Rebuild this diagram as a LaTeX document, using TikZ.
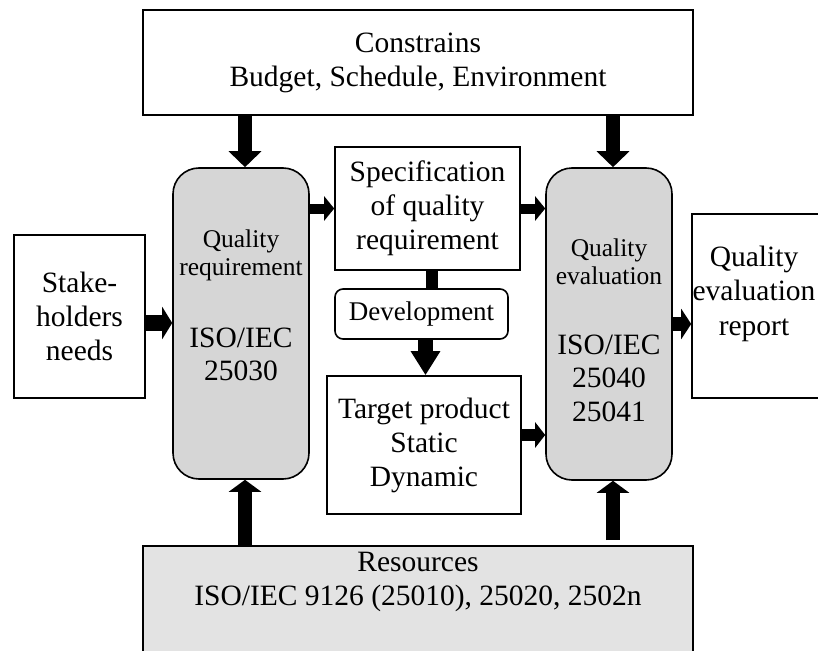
\documentclass[tikz,border=0pt]{standalone}
\usepackage{fontspec}
\setmainfont{Liberation Serif}
\usetikzlibrary{arrows.meta, positioning}

\tikzset{
  plain/.style={draw, line width=1.6pt, inner sep=0pt, align=center,
    font=\fontsize{29.5pt}{34pt}\selectfont},
  rbox/.style={plain, rounded corners=26pt, fill=gray!32},
  txt/.style={inner sep=0pt, align=center, font=\fontsize{29.5pt}{33.5pt}\selectfont},
  smalltxt/.style={txt, font=\fontsize{25.5pt}{28pt}\selectfont},
  bigarrow/.style={line width=14pt, -{Triangle[width=32pt,length=16pt]}},
  sidearrow/.style={line width=10pt, -{Triangle[width=24pt,length=10pt]}},
}

\begin{document}
\begin{tikzpicture}[x=1pt,y=-1pt]
\useasboundingbox (0,0) rectangle (818,650);
% boxes
\node[plain, minimum width=550pt, minimum height=105pt] (constr) at (418,62.5)
  {Constrains\\Budget, Schedule, Environment};
\node[plain, minimum width=131pt, minimum height=163pt] (stake) at (79.5,316.5)
  {Stake-\\holders\\needs};
\node[rbox, minimum width=136pt, minimum height=311pt] (qreq) at (241,323.5) {};
\node[smalltxt] (qreqname) at (241,255) {Quality\\requirement};
\node[txt] (qreqstd) at (241,354.5) {ISO/IEC\\25030};
\node[plain, minimum width=185pt, minimum height=123pt] (spec) at (427.5,208.5)
  {Specification\\of quality\\requirement};
\node[plain, rounded corners=8pt, minimum width=173pt, minimum height=50pt,
  font=\fontsize{27pt}{32pt}\selectfont] (dev) at (421.5,314) {Development};
\node[plain, minimum width=194pt, minimum height=138pt] (target) at (424,445)
  {Target product\\Static\\Dynamic};
\node[rbox, minimum width=126pt, minimum height=312pt] (qeval) at (609,324) {};
\node[smalltxt] (qevalname) at (609,262) {Quality\\evaluation};
\node[txt] (qevalstd) at (609,378) {ISO/IEC\\25040\\25041};
\node[plain, minimum width=130pt, minimum height=184pt] (report) at (757,306) {};
\node[txt, font=\fontsize{29.5pt}{34.5pt}\selectfont] (reporttxt) at (754,293.5)
  {Quality\\evaluation\\report};
\node[plain, fill=gray!22, minimum width=550pt, minimum height=125pt, anchor=north]
  (res) at (418,545) {};
\node[txt] (restxt) at (418,582) {Resources\\ISO/IEC 9126 (25010), 25020, 2502n};
% arrows
\draw[bigarrow] ([xshift=4pt]constr.south -| qreq.north) -- ([xshift=4pt]qreq.north);
\draw[bigarrow] ([xshift=4pt]constr.south -| qeval.north) -- ([xshift=4pt]qeval.north);
\draw[bigarrow, -{Triangle[width=32pt,length=12pt]}] ([xshift=4pt]res.north -| qreq.south) -- ([xshift=4pt]qreq.south);
\draw[bigarrow, -{Triangle[width=32pt,length=12pt]}] ([xshift=4pt,yshift=5pt]res.north -| qeval.south) -- ([xshift=4pt]qeval.south);
\draw[sidearrow, line width=16pt, -{Triangle[width=32pt,length=10pt]}] ([yshift=-6.5pt]stake.east) -- ([yshift=-6.5pt]stake.east -| qreq.west);
\draw[sidearrow] (qreq.east |- spec.west) -- (spec.west);
\draw[sidearrow] (spec.east) -- (spec.east -| qeval.west);
\draw[line width=12pt] ([xshift=4pt]spec.south) -- ([xshift=4pt]spec.south |- dev.north);
\draw[line width=15pt, -{Triangle[width=28pt,length=24pt]}] ([xshift=4pt]dev.south) -- ([xshift=4pt]dev.south |- target.north);
\draw[sidearrow, line width=12pt, -{Triangle[width=25pt,length=10pt]}] ([yshift=10pt]target.east) -- ([yshift=10pt]target.east -| qeval.west);
\draw[sidearrow, line width=14pt, -{Triangle[width=30pt,length=10pt]}] (qeval.east) -- (qeval.east -| report.west);
\end{tikzpicture}
\end{document}
